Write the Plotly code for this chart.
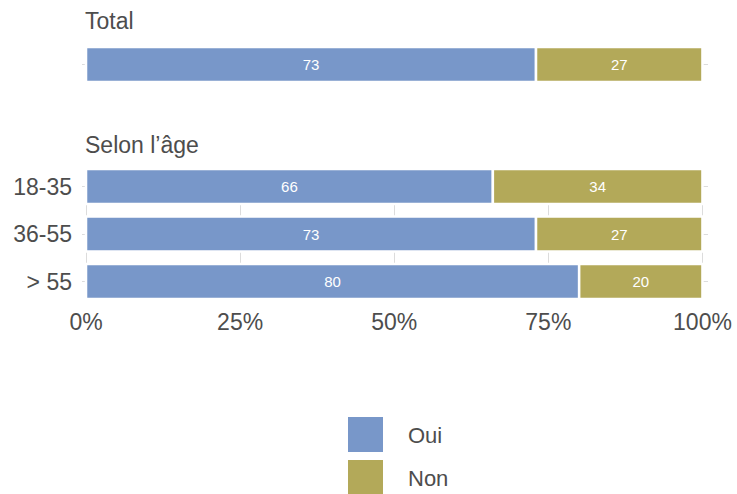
import plotly.graph_objects as go

# Survey answers, in percent
total_label = ["Total"]
oui_total = [73]
non_total = [27]

age_groups = ["18-35", "36-55", "> 55"]
oui_age = [66, 73, 80]
non_age = [34, 27, 20]

series_names = ["Oui", "Non"]
x_ticks = [0, 25, 50, 75, 100]
x_tick_labels = ["0%", "25%", "50%", "75%", "100%"]

W, H = 737, 494
BLUE = "#7897C9"
OLIVE = "#B3A959"
TEXT = "#4D4D4D"
GRID = "#DCDCDC"
FONT = "Liberation Sans, Arial, Helvetica, sans-serif"


def fx(px):
    return px / W


def fy(py):
    return 1 - py / H


BAR_W = 0.737  # bar thickness in category units
GAP = 1 - BAR_W

fig = go.Figure()


def add_bars(cats, oui, non, xa, ya):
    for name, vals, base_vals, color in [
        (series_names[0], oui, [0] * len(oui), BLUE),
        (series_names[1], non, oui, OLIVE),
    ]:
        fig.add_trace(go.Bar(
            y=cats, x=vals, base=base_vals, orientation="h", name=name,
            marker=dict(color=color, line=dict(color="white", width=2.5)),
            text=vals, texttemplate="%{text}", textposition="inside",
            insidetextanchor="middle",
            textfont=dict(color="white", size=15, family=FONT),
            showlegend=False, xaxis=xa, yaxis=ya, hoverinfo="skip",
        ))


add_bars(total_label, oui_total, non_total, "x", "y")
add_bars(age_groups, oui_age, non_age, "x2", "y2")

x_dom = [fx(82), fx(708)]
x_rng = [-0.65, 100.9]

axis_common = dict(
    showline=False, zeroline=False, ticks="", automargin=False,
    tickfont=dict(size=23, color=TEXT, family=FONT),
)

fig.update_layout(
    width=W, height=H,
    margin=dict(l=0, r=0, t=0, b=0, autoexpand=False),
    paper_bgcolor="white", plot_bgcolor="white",
    barmode="overlay", bargap=GAP,
    showlegend=False,
    font=dict(family=FONT, color=TEXT),
    xaxis=dict(domain=x_dom, range=x_rng, anchor="y", tickvals=x_ticks,
               showticklabels=False, showgrid=True, gridcolor=GRID,
               gridwidth=1, **axis_common),
    yaxis=dict(domain=[fy(82), fy(47)], range=[BAR_W / 2, -BAR_W / 2],
               anchor="x", showticklabels=False, showgrid=True,
               gridcolor=GRID, **axis_common),
    xaxis2=dict(domain=x_dom, range=x_rng, anchor="y2", tickvals=x_ticks,
                ticktext=x_tick_labels, showgrid=True, gridcolor=GRID,
                gridwidth=1, ticklabelstandoff=7, **axis_common),
    yaxis2=dict(domain=[fy(299), fy(169)],
                range=[2 + BAR_W / 2, -BAR_W / 2], anchor="x2",
                categoryorder="array", categoryarray=age_groups,
                showgrid=True, gridcolor=GRID, ticklabelstandoff=9,
                **axis_common),
)

# Panel titles
for label, ypx in [("Total", 21), ("Selon l\u2019âge", 145)]:
    fig.add_annotation(text=label, x=fx(83), y=fy(ypx), xref="paper",
                       yref="paper", xanchor="left", yanchor="middle",
                       showarrow=False,
                       font=dict(size=23, color=TEXT, family=FONT))

# Legend keys
for name, color, top in [(series_names[0], BLUE, 417), (series_names[1], OLIVE, 460)]:
    fig.add_shape(type="rect", xref="paper", yref="paper",
                  x0=fx(348), x1=fx(383), y0=fy(top + 35), y1=fy(top),
                  fillcolor=color, line=dict(width=0))
    fig.add_annotation(text=name, x=fx(406), y=fy(top + 18), xref="paper",
                       yref="paper", xanchor="left", yanchor="middle",
                       showarrow=False,
                       font=dict(size=22, color=TEXT, family=FONT))

fig.write_html("out.html")
